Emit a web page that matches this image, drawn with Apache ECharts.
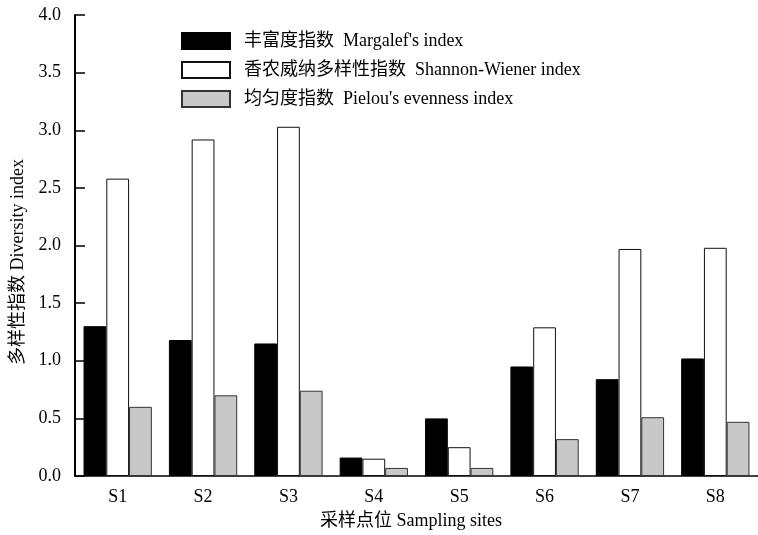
<!DOCTYPE html>
<html>
<head>
<meta charset="utf-8">
<script src="https://cdn.jsdelivr.net/npm/echarts@6/dist/echarts.min.js"></script>
<style>
  html, body { margin: 0; padding: 0; background: #fff; }
  #chart { width: 758px; height: 535px; }
</style>
</head>
<body>
<div id="chart"></div>
<script>
// Sampling sites and diversity indices
const sites = ['S1', 'S2', 'S3', 'S4', 'S5', 'S6', 'S7', 'S8'];
const margalef = [1.30, 1.18, 1.15, 0.16, 0.50, 0.95, 0.84, 1.02];
const shannon = [2.58, 2.92, 3.03, 0.15, 0.25, 1.29, 1.97, 1.98];
const pielou = [0.60, 0.70, 0.74, 0.07, 0.07, 0.32, 0.51, 0.47];

const seriesNames = [
  '丰富度指数  Margalef\'s index',
  '香农威纳多样性指数  Shannon-Wiener index',
  '均匀度指数  Pielou\'s evenness index'
];
const yTitle = '多样性指数 Diversity index';
const xTitle = '采样点位 Sampling sites';

const FONT = '"Liberation Serif", "Times New Roman", "Noto Sans CJK SC", serif';
const FS = 18;

const chart = echarts.init(document.getElementById('chart'), null, { renderer: 'canvas' });

function barSeries(name, data, fill, border) {
  return {
    name: name,
    type: 'bar',
    data: data,
    barGap: '0%',
    barCategoryGap: '20%',
    itemStyle: { color: fill, borderColor: border, borderWidth: 1 },
    emphasis: { disabled: true }
  };
}

chart.setOption({
  animation: false,
  backgroundColor: '#ffffff',
  textStyle: { fontFamily: FONT, color: '#000' },
  grid: { left: 75, top: 15, width: 688, height: 461 },
  legend: {
    orient: 'vertical',
    left: 181,
    top: 32,
    padding: 0,
    itemWidth: 48,
    itemHeight: 16,
    itemGap: 11,
    icon: 'rect',
    selectedMode: false,
    textStyle: { fontFamily: FONT, fontSize: FS, color: '#000', padding: [0, 0, 0, 9] },
    data: seriesNames
  },
  xAxis: {
    type: 'category',
    data: sites,
    axisLine: { lineStyle: { color: '#000', width: 1.5 } },
    axisTick: { inside: true, length: 5, lineStyle: { color: '#000', width: 1.5 } },
    axisLabel: { fontFamily: FONT, fontSize: FS, color: '#000', margin: 12 },
    splitLine: { show: false }
  },
  yAxis: {
    type: 'value',
    min: 0,
    max: 4,
    interval: 0.5,
    axisLine: { show: true, lineStyle: { color: '#000', width: 2 } },
    axisTick: { show: true, inside: true, length: 10, lineStyle: { color: '#000', width: 1.5 } },
    axisLabel: {
      fontFamily: FONT, fontSize: FS, color: '#000', margin: 14,
      formatter: v => v.toFixed(1)
    },
    splitLine: { show: false }
  },
  graphic: [
    {
      type: 'text',
      x: 18, y: 262,
      rotation: Math.PI / 2,
      style: {
        text: yTitle, font: FS + 'px ' + FONT, fill: '#000',
        textAlign: 'center', textVerticalAlign: 'middle'
      }
    },
    {
      type: 'text',
      x: 411, y: 521,
      style: {
        text: xTitle, font: FS + 'px ' + FONT, fill: '#000',
        textAlign: 'center', textVerticalAlign: 'middle'
      }
    }
  ],
  series: [
    barSeries(seriesNames[0], margalef, '#000000', '#000000'),
    barSeries(seriesNames[1], shannon, '#ffffff', '#111111'),
    barSeries(seriesNames[2], pielou, '#c8c8c8', '#333333')
  ]
});
</script>
</body>
</html>
